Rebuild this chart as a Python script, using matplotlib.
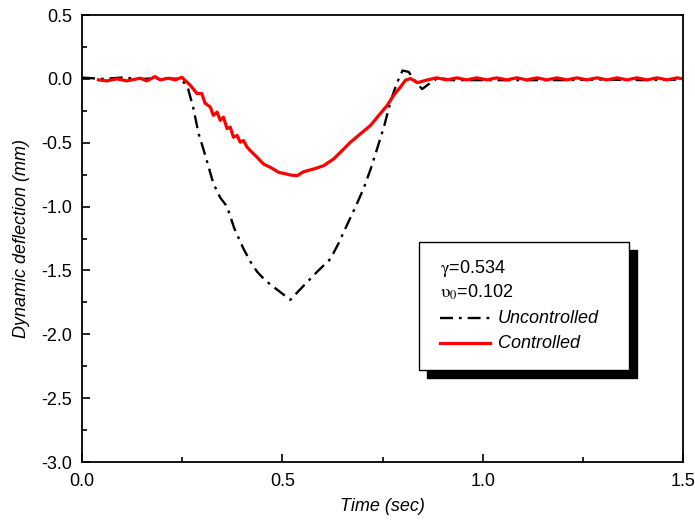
import matplotlib
matplotlib.use("Agg")
import matplotlib.pyplot as plt
from matplotlib.patches import Rectangle
from matplotlib.lines import Line2D
from matplotlib.ticker import MultipleLocator, FormatStrFormatter

plt.rcParams["font.family"] = ["Liberation Sans", "DejaVu Sans"]
plt.rcParams["mathtext.fontset"] = "stix"
plt.rcParams["axes.unicode_minus"] = False

# uncontrolled response (black dash-dot)
t_unc = [0.0, 0.05, 0.10, 0.15, 0.20, 0.24, 0.255, 0.265, 0.278, 0.291, 0.303,
         0.316, 0.328, 0.345, 0.362, 0.38, 0.403, 0.42, 0.437, 0.455, 0.47,
         0.495, 0.52, 0.55, 0.587, 0.62, 0.64, 0.662, 0.683, 0.703, 0.72,
         0.737, 0.755, 0.77, 0.785, 0.80, 0.815, 0.832, 0.849, 0.87, 0.89,
         0.92, 0.96, 1.0, 1.1, 1.2, 1.3, 1.4, 1.5]
d_unc = [0.01, 0.0, 0.01, 0.0, 0.005, 0.0, -0.03, -0.08, -0.23, -0.43, -0.55,
         -0.69, -0.82, -0.93, -1.0, -1.17, -1.33, -1.43, -1.51, -1.57, -1.61,
         -1.67, -1.73, -1.63, -1.51, -1.41, -1.29, -1.14, -1.0, -0.857, -0.71,
         -0.543, -0.36, -0.178, -0.04, 0.065, 0.055, -0.02, -0.08, -0.03, 0.01,
         -0.01, -0.01, -0.01, -0.01, -0.01, -0.005, -0.01, -0.005]

# controlled response (red)
t_con = [0.041, 0.062, 0.087, 0.112, 0.145, 0.162, 0.182, 0.195, 0.216, 0.2325,
         0.249, 0.26, 0.27, 0.287, 0.299, 0.307, 0.32, 0.328, 0.337, 0.345,
         0.353, 0.362, 0.37, 0.378, 0.387, 0.395, 0.403, 0.412, 0.424, 0.437,
         0.453, 0.47, 0.491, 0.51, 0.52, 0.537, 0.553, 0.578, 0.603, 0.628,
         0.645, 0.67, 0.695, 0.72, 0.737, 0.762, 0.778, 0.795, 0.8075, 0.82,
         0.837, 0.86, 0.885, 0.91, 0.935, 0.96, 0.985, 1.01, 1.035, 1.06,
         1.085, 1.11, 1.135, 1.16, 1.185, 1.21, 1.235, 1.26, 1.285, 1.31,
         1.335, 1.36, 1.385, 1.41, 1.435, 1.46, 1.485, 1.5]
d_con = [-0.008, -0.016, 0.0, -0.016, 0.005, -0.016, 0.018, -0.008, 0.005, -0.008,
         0.012, -0.02, -0.05, -0.115, -0.115, -0.19, -0.22, -0.286, -0.26, -0.325,
         -0.30, -0.39, -0.378, -0.457, -0.443, -0.496, -0.483, -0.535, -0.575, -0.614,
         -0.667, -0.693, -0.732, -0.745, -0.753, -0.758, -0.727, -0.706, -0.68, -0.627,
         -0.575, -0.496, -0.43, -0.365, -0.30, -0.207, -0.128, -0.063, -0.01, 0.003,
         -0.03, -0.01, 0.008, -0.008, 0.008, -0.008, 0.008, -0.008, 0.008, -0.008,
         0.008, -0.008, 0.008, -0.008, 0.008, -0.008, 0.008, -0.008, 0.008, -0.008,
         0.008, -0.008, 0.008, -0.008, 0.008, -0.008, 0.008, 0.0]

gamma_txt = r"$\mathrm{\gamma}$=0.534"
upsilon_txt = r"$\mathrm{\upsilon}_{0}$=0.102"
labels = ["Uncontrolled", "Controlled"]

fig = plt.figure(figsize=(6.95, 5.23), dpi=100)
ax = fig.add_axes([82 / 695, 1 - 462 / 523, 601 / 695, 447 / 523])

dashdot = (0, (5.5, 2.5, 1.2, 2.5))
ax.plot(t_unc, d_unc, color="black", lw=1.7, linestyle=dashdot)
ax.plot(t_con, d_con, color="#ff0000", lw=2.3)

ax.set_xlim(0.0, 1.5)
ax.set_ylim(-3.0, 0.5)
ax.xaxis.set_major_locator(MultipleLocator(0.5))
ax.xaxis.set_minor_locator(MultipleLocator(0.25))
ax.yaxis.set_major_locator(MultipleLocator(0.5))
ax.yaxis.set_minor_locator(MultipleLocator(0.25))
ax.xaxis.set_major_formatter(FormatStrFormatter("%.1f"))
ax.yaxis.set_major_formatter(FormatStrFormatter("%.1f"))
ax.tick_params(which="both", direction="in", top=False, right=False, width=1.2, labelsize=13)
ax.tick_params(which="major", length=6)
ax.tick_params(which="minor", length=3.5)
ax.tick_params(axis="y", pad=7)
ax.tick_params(axis="x", pad=8)
for s in ax.spines.values():
    s.set_linewidth(1.3)

ax.set_xlabel("Time (sec)", fontsize=13, style="italic", labelpad=6)
ax.set_ylabel("Dynamic deflection (mm)", fontsize=13, style="italic", labelpad=8)

# legend box with solid shadow
ax.add_patch(Rectangle((0.574, 0.188), 0.349, 0.286, transform=ax.transAxes,
                       facecolor="black", edgecolor="black", zorder=5))
ax.add_patch(Rectangle((0.561, 0.206), 0.349, 0.286, transform=ax.transAxes,
                       facecolor="white", edgecolor="black", lw=1.0, zorder=6))
ax.text(0.596, 0.434, gamma_txt, transform=ax.transAxes, fontsize=13,
        va="center", ha="left", zorder=7)
ax.text(0.596, 0.380, upsilon_txt, transform=ax.transAxes, fontsize=13,
        va="center", ha="left", zorder=7)
ax.add_line(Line2D([0.596, 0.679], [0.322, 0.322], transform=ax.transAxes,
                   color="black", lw=1.7, linestyle=dashdot, zorder=7))
ax.add_line(Line2D([0.596, 0.679], [0.266, 0.266], transform=ax.transAxes,
                   color="#ff0000", lw=2.3, zorder=7))
ax.text(0.692, 0.322, labels[0], transform=ax.transAxes, fontsize=13,
        style="italic", va="center", ha="left", zorder=7)
ax.text(0.692, 0.266, labels[1], transform=ax.transAxes, fontsize=13,
        style="italic", va="center", ha="left", zorder=7)

fig.savefig("out.png", dpi=100)
